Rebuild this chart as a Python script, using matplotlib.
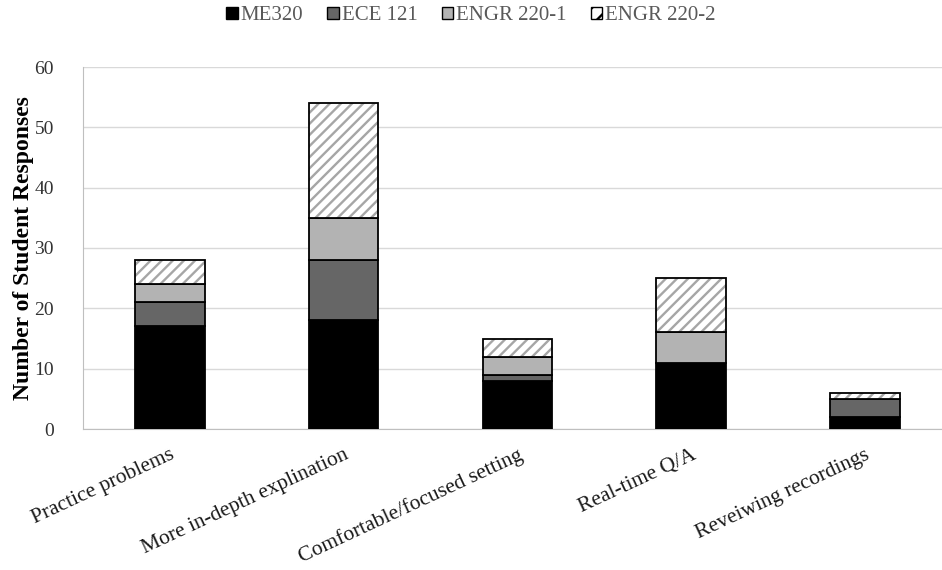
import matplotlib.pyplot as plt
import numpy as np
from matplotlib.patches import Patch

categories = ['Practice problems', 'More in-depth explination', 'Comfortable/focused setting',
              'Real-time Q/A', 'Reveiwing recordings']
me320 = [17, 18, 8, 11, 2]
ece121 = [4, 10, 1, 0, 3]
engr220_1 = [3, 7, 3, 5, 0]
engr220_2 = [4, 19, 3, 9, 1]

plt.rcParams['font.family'] = 'Liberation Serif'
plt.rcParams['hatch.linewidth'] = 1.7

fig = plt.figure(figsize=(9.42, 5.70), dpi=100)
ax = fig.add_axes([83 / 942, 1 - 429 / 570, (942 - 83) / 942, (429 - 67) / 570])

x = np.arange(len(categories))
w = 0.4
bottom = np.zeros(len(categories))
series = [(me320, '#000000'), (ece121, '#666666'), (engr220_1, '#b3b3b3')]
for vals, col in series:
    ax.bar(x, vals, w, bottom=bottom, color=col, edgecolor='black', linewidth=1.3, zorder=3)
    bottom += np.array(vals)

# hatched top segment: grey stripes first, then a black outline over it
ax.bar(x, engr220_2, w, bottom=bottom, color='white', edgecolor='#a6a6a6',
       hatch='///', linewidth=0, zorder=3)
ax.bar(x, engr220_2, w, bottom=bottom, fill=False, edgecolor='black', linewidth=1.3, zorder=4)

ax.set_xlim(-0.5, 4 + (942 - 865) / 173.75)
ax.set_ylim(0, 60)
ax.set_yticks(range(0, 61, 10))
ax.yaxis.grid(True, color='#d9d9d9', linewidth=1)
ax.set_axisbelow(True)
for s in ['top', 'right']:
    ax.spines[s].set_visible(False)
ax.spines['left'].set_color('#bfbfbf')
ax.spines['bottom'].set_color('#bfbfbf')
ax.tick_params(axis='y', length=0, labelsize=14, labelcolor='#333333', pad=21)
ax.tick_params(axis='x', length=0, labelsize=15.5, labelcolor='#1a1a1a', pad=12)
ax.set_xticks(x)
ax.set_xticklabels(categories, rotation=25, ha='right', rotation_mode='anchor')
ax.set_ylabel('Number of Student Responses', fontsize=17, fontweight='bold', labelpad=0)

handles = [Patch(facecolor='#000000', edgecolor='black'),
           Patch(facecolor='#666666', edgecolor='black'),
           Patch(facecolor='#b3b3b3', edgecolor='black'),
           Patch(facecolor='white', edgecolor='black', hatch='//')]
leg = fig.legend(handles, ['ME320', 'ECE 121', 'ENGR 220-1', 'ENGR 220-2'],
                 loc='center', bbox_to_anchor=(0.5, 1 - 16 / 570), ncol=4, frameon=False,
                 fontsize=15, handlelength=0.55, handleheight=0.55, handletextpad=0.15,
                 columnspacing=1.15, labelcolor='#595959')

fig.savefig('out.png', dpi=100)
